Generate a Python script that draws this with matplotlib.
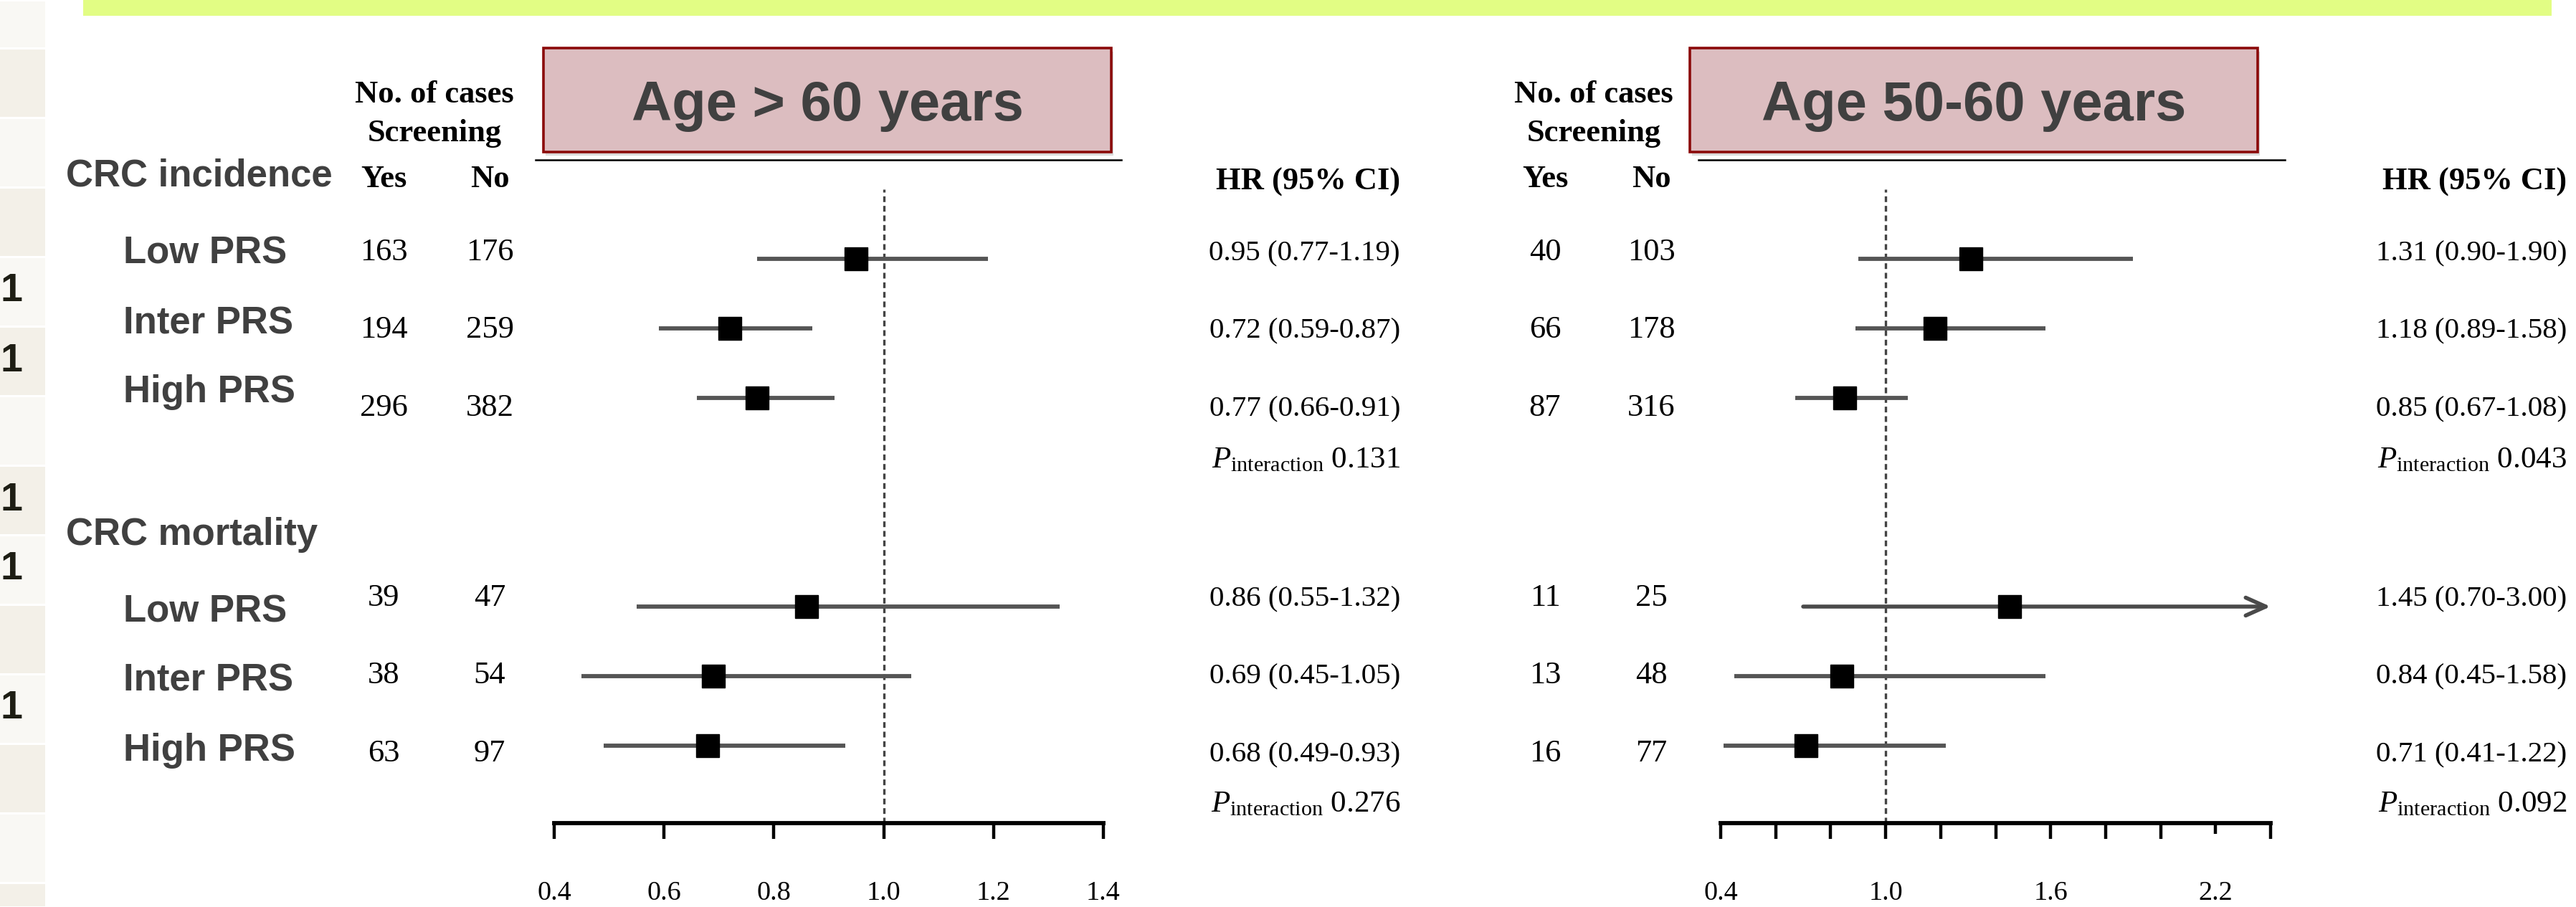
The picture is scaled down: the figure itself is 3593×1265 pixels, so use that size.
import matplotlib
matplotlib.use("Agg")
import numpy as np
import matplotlib.pyplot as plt
from matplotlib.patches import Rectangle

plt.rcParams["mathtext.fontset"] = "custom"
plt.rcParams["mathtext.rm"] = "Liberation Serif"
plt.rcParams["mathtext.it"] = "Liberation Serif:italic"

SERIF = "Liberation Serif"
SANS = "Liberation Sans"
GREY_TXT = "#404040"

# ---------------- data ----------------
sections = ["CRC incidence", "CRC mortality"]
groups = ["Low PRS", "Inter PRS", "High PRS"] * 2

# age > 60 years
old_yes = [163, 194, 296, 39, 38, 63]
old_no = [176, 259, 382, 47, 54, 97]
old_hr = [0.95, 0.72, 0.77, 0.86, 0.69, 0.68]
old_lo = [0.77, 0.59, 0.66, 0.55, 0.45, 0.49]
old_hi = [1.19, 0.87, 0.91, 1.32, 1.05, 0.93]
old_p = ["0.131", "0.276"]
old_ticks = [0.4, 0.6, 0.8, 1.0, 1.2, 1.4]
old_ticklabels = ["0.4", "0.6", "0.8", "1.0", "1.2", "1.4"]

# age 50-60 years
young_yes = [40, 66, 87, 11, 13, 16]
young_no = [103, 178, 316, 25, 48, 77]
young_hr = [1.31, 1.18, 0.85, 1.45, 0.84, 0.71]
young_lo = [0.90, 0.89, 0.67, 0.70, 0.45, 0.41]
young_hi = [1.90, 1.58, 1.08, 3.00, 1.58, 1.22]
young_p = ["0.043", "0.092"]
young_ticks = [0.4, 0.6, 0.8, 1.0, 1.2, 1.4, 1.6, 1.8, 2.0, 2.2, 2.4]
young_ticklabels = ["0.4", "", "", "1.0", "", "", "1.6", "", "", "2.2", ""]

# ---------------- layout (pixels) ----------------
W, H = 3593, 1265
row_idx = [0, 1, 2, 5, 6, 7]
ROW0, ROWSTEP = 361, 97
AX_TOP, AX_BOT = 264, 1148
text_base = [363, 471, 580, 845, 953, 1062]
label_base = [368, 465, 561, 867, 964, 1061]
section_base = [260, 760]
p_base = [652, 1132]

fig = plt.figure(figsize=(W / 100, H / 100), dpi=100)
bg = fig.add_axes([0, 0, 1, 1])
bg.set_xlim(0, W)
bg.set_ylim(H, 0)
bg.axis("off")

# slide leftovers: green band on top and the table strip on the left
bg.add_patch(Rectangle((116, 0), 3559 - 116, 22, fc="#e2fd84", ec="none"))
bounds = [0, 67, 164, 261, 358, 455, 552, 649, 746, 843, 940, 1037, 1134, 1231, 1265]
for i in range(len(bounds) - 1):
    c = "#f9f8f4" if i % 2 == 0 else "#f3f0e8"
    bg.add_patch(Rectangle((0, bounds[i] + 1.5), 63, bounds[i + 1] - bounds[i] - 3,
                           fc=c, ec="none"))
    if i in (4, 5, 7, 8, 10):
        bg.text(1, (bounds[i] + bounds[i + 1]) / 2, "1", ha="left", va="center",
                fontsize=40, fontweight="bold", family=SANS, color="#1e1e14")


def title_box(x0, x1, text, line_x0, line_x1):
    bg.add_patch(Rectangle((x0 + 3, 72), x1 - x0, 145, fc="#9a9a9a", ec="none", alpha=0.35))
    bg.add_patch(Rectangle((x0, 67), x1 - x0, 145, fc="#dcbdc0", ec="#8b0a0a", lw=2.6))
    bg.text((x0 + x1) / 2, 168, text, ha="center", va="baseline", fontsize=56,
            fontweight="bold", family=SANS, color=GREY_TXT)
    bg.plot([line_x0, line_x1], [223, 223], color="black", lw=1.8)


def headers(mid_x, yes_x, no_x, hr_right):
    bg.text(mid_x, 143, "No. of cases", ha="center", va="baseline", fontsize=32,
            fontweight="bold", family=SERIF)
    bg.text(mid_x, 197, "Screening", ha="center", va="baseline", fontsize=32,
            fontweight="bold", family=SERIF)
    bg.text(yes_x, 261, "Yes", ha="center", va="baseline", fontsize=32,
            fontweight="bold", family=SERIF)
    bg.text(no_x, 261, "No", ha="center", va="baseline", fontsize=32,
            fontweight="bold", family=SERIF)
    bg.text(hr_right, 265, "HR (95% CI)", ha="right", va="baseline", fontsize=32,
            fontweight="bold", family=SERIF)


def columns(yes, no, hr, lo, hi, p, yes_x, no_x, hr_right):
    for i in range(len(yes)):
        bg.text(yes_x, text_base[i], str(yes[i]), ha="center", va="baseline",
                fontsize=32, family=SERIF)
        bg.text(no_x, text_base[i], str(no[i]), ha="center", va="baseline",
                fontsize=32, family=SERIF)
        bg.text(hr_right, text_base[i], f"{hr[i]:.2f} ({lo[i]:.2f}-{hi[i]:.2f})",
                ha="right", va="baseline", fontsize=29.5, family=SERIF)
    for k in range(len(p)):
        bg.text(hr_right, p_base[k], r"$P_{\mathrm{interaction}}$ " + p[k],
                ha="right", va="baseline", fontsize=31, family=SERIF)


def forest(left, right, xmax, ticks, ticklabels, hr, lo, hi):
    ax = fig.add_axes([left / W, (H - AX_BOT) / H, (right - left) / W, (AX_BOT - AX_TOP) / H])
    ax.set_facecolor("none")
    ax.set_xlim(0.4, xmax)
    ax.set_ylim((AX_BOT - ROW0) / ROWSTEP, (AX_TOP - ROW0) / ROWSTEP)
    for s in ["top", "left", "right"]:
        ax.spines[s].set_visible(False)
    ax.spines["bottom"].set_linewidth(4.2)
    ax.set_yticks([])
    ax.set_xticks(ticks)
    ax.set_xticklabels(ticklabels, fontfamily=SERIF, fontsize=27.5)
    ax.tick_params(axis="x", length=16, width=3.2, pad=42, direction="out")
    ax.axvline(1.0, color="#444444", lw=2.4, linestyle=(0, (2.4, 1.6)), zorder=1)
    for r, h, l, u in zip(row_idx, hr, lo, hi):
        if u > xmax:
            ax.annotate("", xy=(xmax, r), xytext=(l, r),
                        arrowprops=dict(arrowstyle="->,head_length=0.67,head_width=0.3",
                                        color="#4a4a4a", lw=4.0, shrinkA=0, shrinkB=0,
                                        mutation_scale=30))
        else:
            ax.hlines(r, l, u, color="#555555", lw=4.2, zorder=2)
    ax.plot(hr, row_idx, "s", ms=23, color="black", zorder=3, clip_on=False)
    return ax


# left panel: age > 60
title_box(758, 1550, "Age > 60 years", 747, 1564)
headers(606, 535, 683, 1953)
for k, s in enumerate(sections):
    bg.text(92, section_base[k], s, ha="left", va="baseline", fontsize=38,
            fontweight="bold", family=SANS, color=GREY_TXT)
for i, g in enumerate(groups):
    bg.text(172, label_base[i], g, ha="left", va="baseline", fontsize=38,
            fontweight="bold", family=SANS, color=GREY_TXT)
columns(old_yes, old_no, old_hr, old_lo, old_hi, old_p, 535, 683, 1953)
forest(773, 1539, 1.4, old_ticks, old_ticklabels, old_hr, old_lo, old_hi)

# right panel: age 50-60
title_box(2357, 3149, "Age 50-60 years", 2369, 3187)
headers(2223, 2155, 2303, 3580)
columns(young_yes, young_no, young_hr, young_lo, young_hi, young_p, 2155, 2303, 3580)
ax2 = forest(2400, 3167, 2.4, young_ticks, young_ticklabels, young_hr, young_lo, young_hi)
ax2.xaxis.get_major_ticks()[9].tick1line.set_markersize(11)

fig.savefig("out.png", dpi=100)
